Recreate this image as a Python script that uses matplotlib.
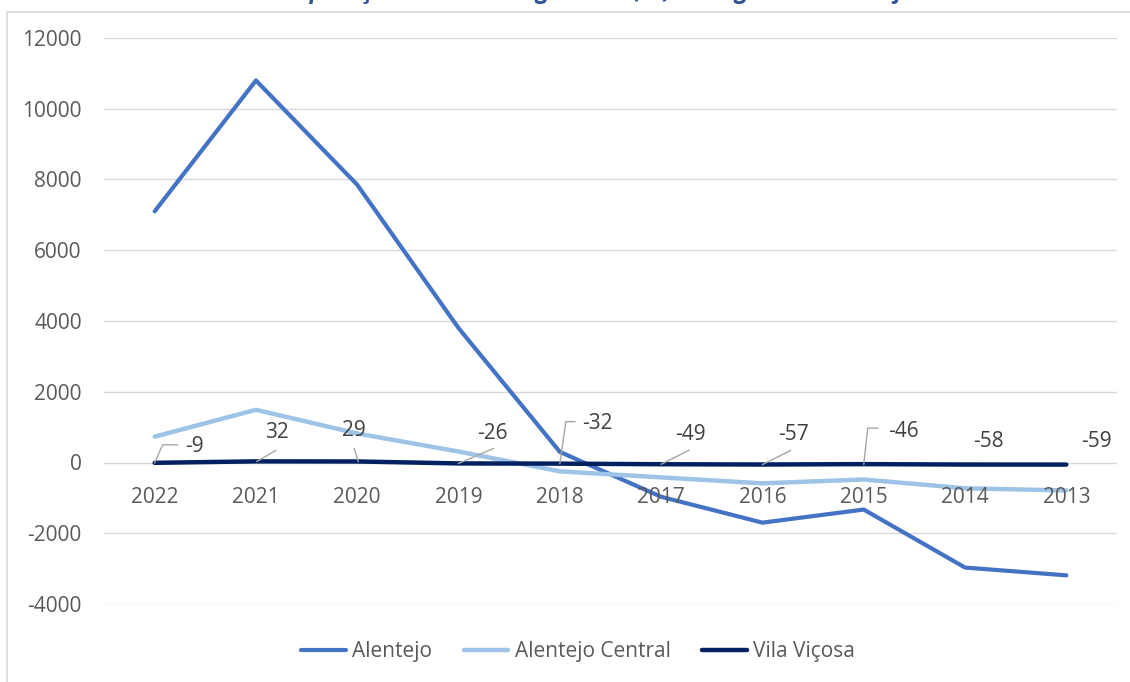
import numpy as np
import matplotlib.pyplot as plt
from matplotlib.lines import Line2D
from matplotlib.patches import Rectangle
from matplotlib.transforms import IdentityTransform

plt.rcParams['font.family'] = ['Open Sans', 'DejaVu Sans']
plt.rcParams['axes.unicode_minus'] = False

years = ['2022', '2021', '2020', '2019', '2018', '2017', '2016', '2015', '2014', '2013']
alentejo = [7100, 10800, 7850, 3800, 300, -970, -1700, -1330, -2970, -3190]
alentejo_central = [730, 1490, 820, 310, -250, -420, -590, -480, -730, -790]
vila_vicosa = [-9, 32, 29, -26, -32, -49, -57, -46, -58, -59]

# label placement (pixel offsets from the point) and leader lines
label_offsets = [(40, 16), (21, 29), (-3, 31), (34, 30), (38, 40),
                 (29, 30), (31, 30), (40, 33), (23, 23), (30, 23)]
leaders = [[(0, 0), (8, 18), (23, 18)],
           [(1, 0), (20, 11)],
           [(1, 0), (-3, 13)],
           [(0, 0), (35, 15)],
           [(0, 0), (6, 42), (15, 42)],
           [(0, 0), (28, 14)],
           [(0, 0), (28, 14)],
           [(0, 0), (4, 36), (14, 36)],
           None,
           None]

FS = 15
W, H = 1130, 682
fig = plt.figure(figsize=(W / 100, H / 100), dpi=100)
ax = fig.add_axes([104 / W, 1 - 604 / H, 1013 / W, 566 / H])

x = np.arange(len(years))
ax.plot(x, alentejo, color='#4472C4', lw=3.0, label='Alentejo', solid_capstyle='round', zorder=3)
ax.plot(x, alentejo_central, color='#9DC3E6', lw=3.2, label='Alentejo Central', solid_capstyle='round', zorder=3)
ax.plot(x, vila_vicosa, color='#002060', lw=3.2, label='Vila Viçosa', solid_capstyle='round', zorder=4)

ax.set_xlim(-0.5, len(years) - 0.5)
ax.set_ylim(-4000, 12000)
ax.set_yticks(np.arange(-4000, 12001, 2000))
ax.grid(axis='y', color='#D9D9D9', lw=1)
ax.set_axisbelow(True)
ax.set_xticks([])
for s in ax.spines.values():
    s.set_visible(False)
ax.tick_params(axis='y', length=0, pad=16, labelsize=FS, labelcolor='#595959')

# category labels sit just under the zero line
for i, yr in enumerate(years):
    ax.annotate(yr, (i, 0), xytext=(0, -35), textcoords='offset pixels',
                ha='center', va='center', fontsize=FS, color='#595959')

# data labels with leader lines
for i, v in enumerate(vila_vicosa):
    dx, dy = label_offsets[i]
    ax.annotate(f'{v}', (i, v), xytext=(dx, dy), textcoords='offset pixels',
                ha='center', va='center', fontsize=FS, color='#404040', zorder=5)
    if leaders[i] is not None:
        px, py = ax.transData.transform((i, v))
        xs = [px + p[0] for p in leaders[i]]
        ys = [py + p[1] for p in leaders[i]]
        fig.add_artist(Line2D(xs, ys, transform=IdentityTransform(), color='#A6A6A6', lw=1, zorder=5))

fig.legend(loc='center', bbox_to_anchor=(578 / W, 1 - 652 / H), ncol=3, frameon=False,
           fontsize=FS, labelcolor='#595959', handlelength=2.15, handletextpad=0.3,
           columnspacing=1.5)

# chart border
fig.add_artist(Rectangle((7 / W, -0.1), 1.2, 1 - 12 / H + 0.1, transform=fig.transFigure,
                         fill=False, edgecolor='#D9D9D9', lw=1.2))

# title of the chart, cut off at the top edge as in the source picture
fig.text(0.52, 1 + 1.5 / H, 'Comparação do Saldo Migratório (nº) na região do Alentejo',
         ha='center', va='baseline', fontsize=17, fontweight='bold', style='italic',
         color='#2F5597')

plt.savefig('out.png', dpi=100)
